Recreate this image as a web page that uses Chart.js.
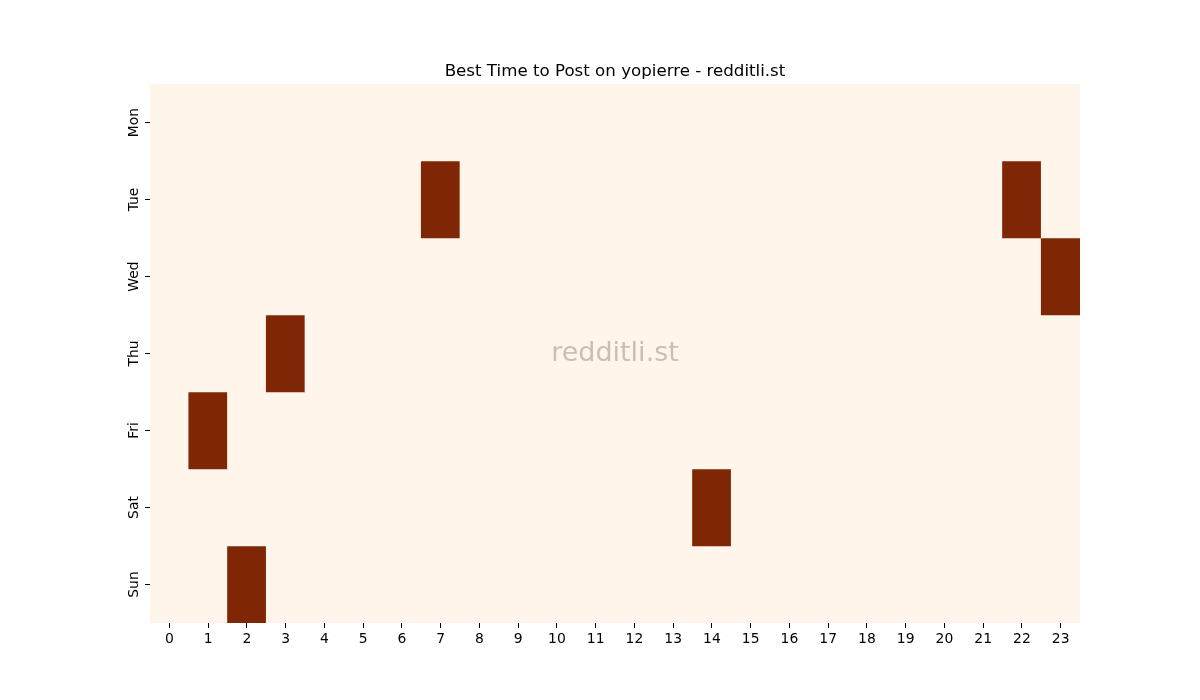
<!DOCTYPE html>
<html>
<head>
<meta charset="utf-8">
<script src="https://cdn.jsdelivr.net/npm/chart.js@4/dist/chart.umd.min.js"></script>
<style>
  html, body { margin: 0; padding: 0; background: #fff; }
  #wrap { width: 1200px; height: 700px; }
</style>
</head>
<body>
<div id="wrap"><canvas id="heat"></canvas></div>
<script>
// best-time grid, one row per weekday, 1 = best hour
const days = ["Mon", "Tue", "Wed", "Thu", "Fri", "Sat", "Sun"];
const hours = ["0", "1", "2", "3", "4", "5", "6", "7", "8", "9", "10", "11",
               "12", "13", "14", "15", "16", "17", "18", "19", "20", "21", "22", "23"];

const mon = [0,0,0,0,0,0,0,0,0,0,0,0,0,0,0,0,0,0,0,0,0,0,0,0];
const tue = [0,0,0,0,0,0,0,1,0,0,0,0,0,0,0,0,0,0,0,0,0,0,1,0];
const wed = [0,0,0,0,0,0,0,0,0,0,0,0,0,0,0,0,0,0,0,0,0,0,0,1];
const thu = [0,0,0,1,0,0,0,0,0,0,0,0,0,0,0,0,0,0,0,0,0,0,0,0];
const fri = [0,1,0,0,0,0,0,0,0,0,0,0,0,0,0,0,0,0,0,0,0,0,0,0];
const sat = [0,0,0,0,0,0,0,0,0,0,0,0,0,0,1,0,0,0,0,0,0,0,0,0];
const sun = [0,0,1,0,0,0,0,0,0,0,0,0,0,0,0,0,0,0,0,0,0,0,0,0];
const rows = [mon, tue, wed, thu, fri, sat, sun];

const lowColor = "#fff5eb";
const highColor = "#7f2704";

const FONT = "'DejaVu Sans', sans-serif";

const watermark = {
    id: "watermark",
    afterDatasetsDraw(chart) {
        const {ctx, chartArea: a} = chart;
        ctx.save();
        ctx.font = "27px " + FONT;
        ctx.fillStyle = "rgba(128,128,128,0.45)";
        ctx.textAlign = "center";
        ctx.textBaseline = "middle";
        ctx.fillText("redditli.st", (a.left + a.right) / 2, (a.top + a.bottom) / 2);
        ctx.restore();
    }
};

const datasets = rows.map((vals, d) => ({
    label: days[d],
    data: vals.map(() => [d, d + 1]),
    backgroundColor: vals.map(v => v > 0 ? highColor : lowColor),
    borderWidth: 0,
    grouped: false,
    barPercentage: 1,
    categoryPercentage: 1
}));

new Chart(document.getElementById("heat").getContext("2d"), {
    type: "bar",
    data: {labels: hours, datasets: datasets},
    plugins: [watermark],
    options: {
        responsive: true,
        maintainAspectRatio: false,
        animation: false,
        // padL - padR = 30 keeps the title centred over the grid
        layout: {padding: {left: 30, right: 0, top: 62, bottom: 0}},
        plugins: {
            legend: {display: false},
            tooltip: {enabled: false},
            title: {
                display: true,
                text: "Best Time to Post on yopierre - redditli.st",
                color: "#000",
                font: {family: FONT, size: 16.67, weight: "normal"},
                padding: {top: 0, bottom: 2}
            }
        },
        scales: {
            x: {
                type: "category",
                offset: true,
                border: {display: false},
                grid: {offset: false, drawOnChartArea: false, tickLength: 5, color: "#000", tickWidth: 1},
                ticks: {color: "#000", font: {family: FONT, size: 13.9}, padding: 3, maxRotation: 0, autoSkip: false},
                afterFit: s => { s.height = 77; }
            },
            y: {
                type: "linear",
                min: 0,
                max: 7,
                reverse: true,
                border: {display: false},
                grid: {drawOnChartArea: false, tickLength: 5, color: "#000", tickWidth: 1},
                afterBuildTicks: s => { s.ticks = days.map((_, i) => ({value: i + 0.5})); },
                ticks: {
                    color: "#000",
                    font: {family: FONT, size: 13.9},
                    minRotation: 90,
                    maxRotation: 90,
                    crossAlign: "center",
                    padding: -5,
                    callback: v => days[Math.floor(v)]
                },
                afterFit: s => { s.width = 120; }
            },
            // empty right-hand axis, only reserves the right margin
            yPad: {
                type: "linear",
                position: "right",
                min: 0,
                max: 1,
                border: {display: false},
                grid: {display: false},
                ticks: {display: false},
                afterFit: s => { s.width = 120; }
            }
        }
    }
});
</script>
</body>
</html>
